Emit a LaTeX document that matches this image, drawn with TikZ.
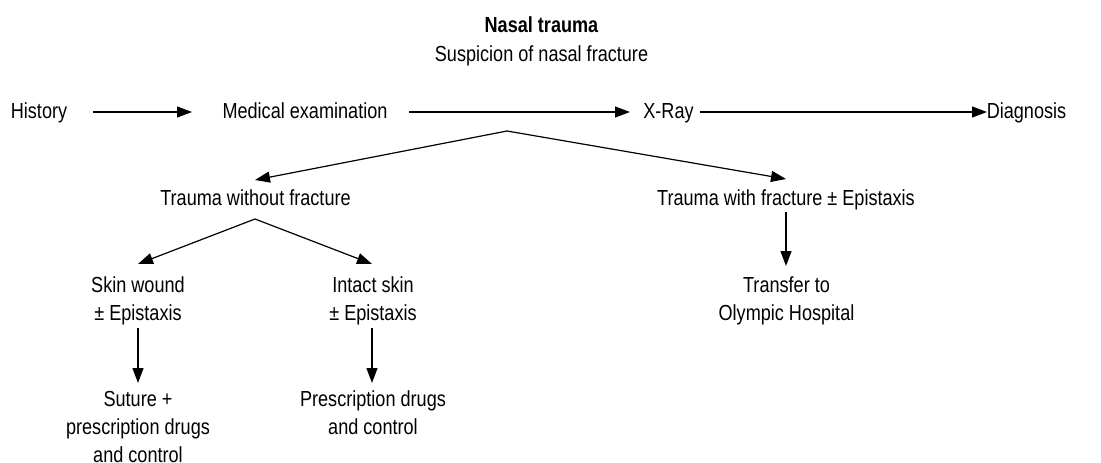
\documentclass[tikz,border=0pt]{standalone}
\usepackage{fontspec}
\setmainfont{Liberation Sans}[FakeStretch=0.83]
\usetikzlibrary{arrows.meta}
\begin{document}
\begin{tikzpicture}[x=1pt,y=-1pt,
  lbl/.style={inner sep=0pt,anchor=base,align=center,font=\fontsize{21.8}{28}\selectfont},
  arr/.style={-{Triangle[length=15pt,width=11pt]},line width=1.2pt}]
\useasboundingbox (0,0) rectangle (1101,463);
\node[lbl,font=\fontsize{21.8}{28}\selectfont\bfseries] (title) at (541.5,32) {Nasal trauma};
\node[lbl] (sub) at (541.5,61) {Suspicion of nasal fracture};
\node[lbl] (hist) at (39,118) {History};
\node[lbl] (med) at (305,118) {Medical examination};
\node[lbl] (xray) at (668.5,118) {X-Ray};
\node[lbl] (diag) at (1026.5,118) {Diagnosis};
\node[lbl] (twf) at (255.5,205.5) {Trauma without fracture};
\node[lbl] (twfe) at (786,205.5) {Trauma with fracture ± Epistaxis};
\node[lbl] (trans) at (786.5,320.5) {Transfer to\\Olympic Hospital};
\node[lbl] (skin) at (138,320.5) {Skin wound\\± Epistaxis};
\node[lbl] (intact) at (373,320.5) {Intact skin\\± Epistaxis};
\node[lbl] (sut) at (138,462) {Suture +\\prescription drugs\\and control};
\node[lbl] (presc) at (373,434.5) {Prescription drugs\\and control};
\coordinate (b1) at (507,131);
\draw[arr] ([xshift=54pt,yshift=6pt]hist.base) -- ([xshift=-113pt,yshift=6pt]med.base);
\draw[arr] ([xshift=104pt,yshift=6pt]med.base) -- ([xshift=-38.5pt,yshift=6pt]xray.base);
\draw[arr] ([xshift=31.5pt,yshift=6pt]xray.base) -- ([xshift=-39.5pt,yshift=6pt]diag.base);
\draw[arr] (b1) -- ([xshift=-0.5pt,yshift=25.5pt]twf.base);
\draw[arr] (b1) -- ([yshift=26.5pt]twfe.base);
\draw[arr] ([yshift=-6.5pt]twfe.base) -- ([xshift=-0.5pt,yshift=54.5pt]trans.base);
\draw[arr] ([xshift=-0.5pt,yshift=-13.5pt]twf.base) -- ([yshift=56.5pt]skin.base);
\draw[arr] ([xshift=-0.5pt,yshift=-13.5pt]twf.base) -- ([xshift=-1pt,yshift=56.5pt]intact.base);
\draw[arr] ([yshift=-7.5pt]skin.base) -- ([yshift=79pt]sut.base);
\draw[arr] ([xshift=-1pt,yshift=-7.5pt]intact.base) -- ([xshift=-1pt,yshift=51.5pt]presc.base);
\end{tikzpicture}
\end{document}
